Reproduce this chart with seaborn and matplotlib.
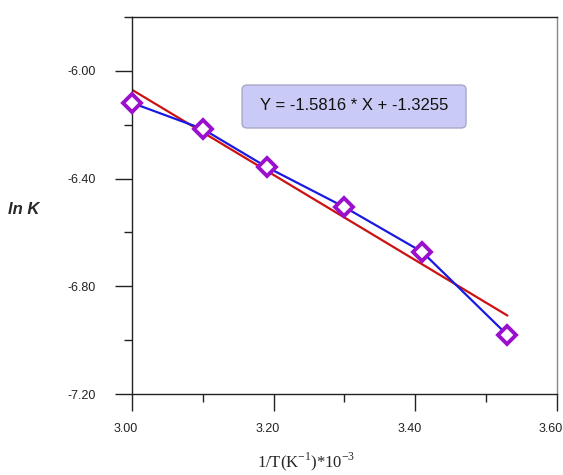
import numpy as np
import pandas as pd
import matplotlib
matplotlib.use("Agg")
import matplotlib.pyplot as plt
import matplotlib.transforms as mtransforms
from matplotlib.ticker import MultipleLocator, FormatStrFormatter
from matplotlib.patches import FancyBboxPatch
import seaborn as sns

# Arrhenius-type data: inverse temperature vs ln K
inv_T = [3.00, 3.10, 3.19, 3.30, 3.41, 3.53]
ln_K = [-6.119, -6.216, -6.357, -6.506, -6.673, -6.981]

# Linear fit reported on the chart
slope = -1.5816
intercept = -1.3255

x_ticks = [3.00, 3.20, 3.40, 3.60]
y_ticks = [-7.20, -6.80, -6.40, -6.00]

sns.set_style("ticks")
plt.rcParams["font.family"] = ["Liberation Sans", "DejaVu Sans"]
plt.rcParams["mathtext.fontset"] = "custom"
plt.rcParams["mathtext.rm"] = "Liberation Serif"

fig = plt.figure(figsize=(5.63, 4.75), dpi=100)
ax = fig.add_axes([0.2345, 0.1705, 0.7548, 0.7937])

df = pd.DataFrame({"x": inv_T, "y": ln_K})
fit_x = np.array([inv_T[0], inv_T[-1]])
fit = pd.DataFrame({"x": fit_x, "y": slope * fit_x + intercept})

sns.lineplot(data=fit, x="x", y="y", ax=ax, color="#CC1111", linewidth=1.6,
             zorder=2)
sns.lineplot(data=df, x="x", y="y", ax=ax, color="#1A1AE0", linewidth=1.6,
             marker="D", markersize=9, markerfacecolor="white",
             markeredgecolor="#9A10CC", markeredgewidth=2.8, zorder=3,
             clip_on=False)

ax.set_xlim(3.00, 3.60)
ax.set_ylim(-7.20, -5.80)
ax.set_xticks(x_ticks)
ax.set_yticks(y_ticks)
ax.xaxis.set_minor_locator(MultipleLocator(0.1))
ax.yaxis.set_minor_locator(MultipleLocator(0.2))
ax.xaxis.set_major_formatter(FormatStrFormatter("%.2f"))
ax.yaxis.set_major_formatter(FormatStrFormatter("%.2f"))

ax.tick_params(axis="both", which="major", direction="out", length=12,
               width=1.0, color="#222222", labelsize=9, labelcolor="#222222")
ax.tick_params(axis="both", which="minor", direction="out", length=6,
               width=1.0, color="#222222")
ax.tick_params(axis="y", which="major", pad=14)
ax.tick_params(axis="x", which="major", pad=9)

# x tick labels sit slightly left of their ticks
shift = mtransforms.ScaledTranslation(-6 / 100, 0, fig.dpi_scale_trans)
for lbl in ax.get_xticklabels():
    lbl.set_transform(lbl.get_transform() + shift)

for side in ["left", "right", "top", "bottom"]:
    ax.spines[side].set_visible(True)
    ax.spines[side].set_color("#222222")
    ax.spines[side].set_linewidth(1.0)
ax.spines["right"].set_color("#888888")

ax.set_xlabel(r"1/T(K$^{-1}$)*10$^{-3}$", fontsize=12,
              family=["Liberation Serif", "DejaVu Serif"])
ax.set_ylabel("ln K", fontsize=12, fontweight="bold", style="italic",
              rotation=0)
ax.yaxis.set_label_coords(-0.255, 0.47)
ax.xaxis.set_label_coords(0.41, -0.15)

# Equation box
box = FancyBboxPatch((0.259, 0.7056), 0.527, 0.114, transform=ax.transAxes,
                     boxstyle="round,pad=0,rounding_size=0.012",
                     facecolor="#CACAF6", edgecolor="#A8A8C8", linewidth=1.0,
                     zorder=4)
ax.add_patch(box)
ax.text(0.522, 0.764, f"Y = {slope} * X + {intercept}", transform=ax.transAxes,
        ha="center", va="center", fontsize=12, color="#111111", zorder=5)

fig.savefig("out.png", dpi=100)
